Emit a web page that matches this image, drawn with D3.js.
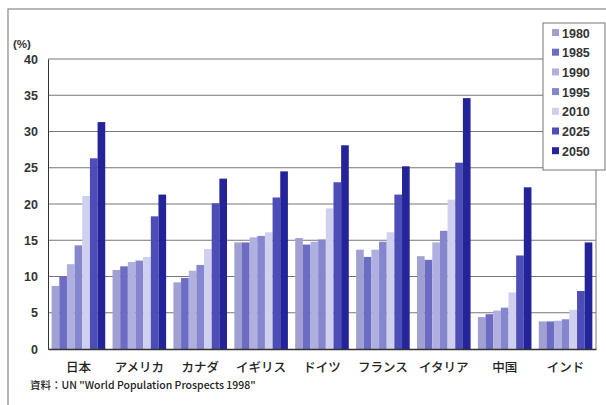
<!DOCTYPE html>
<html>
<head>
<meta charset="utf-8">
<script src="https://cdn.jsdelivr.net/npm/d3@7"></script>
<style>
body{margin:0;background:#fff;}
svg text{font-family:"Liberation Sans","Noto Sans CJK JP",sans-serif;fill:#222;}
</style>
</head>
<body>
<div id="chart"></div>
<script>
// data
var countries = ['日本','アメリカ','カナダ','イギリス','ドイツ','フランス','イタリア','中国','インド'];
var years = ['1980','1985','1990','1995','2010','2025','2050'];
var v1980 = [8.7, 10.9, 9.2, 14.7, 15.3, 13.7, 12.8, 4.4, 3.8];
var v1985 = [10.0, 11.4, 9.8, 14.7, 14.4, 12.7, 12.3, 4.8, 3.8];
var v1990 = [11.7, 12.0, 10.8, 15.4, 14.8, 13.7, 14.7, 5.3, 3.9];
var v1995 = [14.3, 12.2, 11.6, 15.6, 15.1, 14.8, 16.3, 5.7, 4.1];
var v2010 = [21.1, 12.7, 13.8, 16.1, 19.4, 16.1, 20.6, 7.8, 5.4];
var v2025 = [26.3, 18.3, 20.1, 20.9, 23.0, 21.3, 25.7, 12.9, 8.0];
var v2050 = [31.3, 21.3, 23.5, 24.5, 28.1, 25.2, 34.6, 22.3, 14.7];
var yTicks = [0,5,10,15,20,25,30,35,40];
var series = [v1980, v1985, v1990, v1995, v2010, v2025, v2050];
var colors = ['#a0a0d2','#6c6cc4','#b0b0e0','#8686ce','#cfcfee','#4d4db8','#24249a'];

var W = 606, H = 405;
var margin = {t:59, r:10, b:56, l:48};
var plotW = 596 - margin.l, plotH = 349 - margin.t;

var svg = d3.select('#chart').append('svg')
	.attr('width', W).attr('height', H);

// outer frame
svg.append('rect')
	.attr('x', 8).attr('y', 9).attr('width', 620).attr('height', 420)
	.style('fill','none').style('stroke','#888').style('stroke-width',1.2);

var plot = svg.append('g')
	.attr('transform','translate('+margin.l+','+margin.t+')');

var x0 = d3.scaleBand().domain(countries).range([0, plotW]).paddingInner(0.12).paddingOuter(0.06);
var x1 = d3.scaleBand().domain(years).range([0, x0.bandwidth()]);
var y = d3.scaleLinear().domain([0, 40]).range([plotH, 0]);

// gridlines
plot.selectAll('.grid').data(yTicks.slice(1)).enter().append('line')
	.attr('x1', 0).attr('x2', plotW)
	.attr('y1', function(d){return y(d);}).attr('y2', function(d){return y(d);})
	.style('stroke','#777').style('stroke-width',1);

// right border
plot.append('line')
	.attr('x1', plotW).attr('x2', plotW).attr('y1', 0).attr('y2', plotH)
	.style('stroke','#777');

// bars
countries.forEach(function(c, i){
	var g = plot.append('g').attr('transform','translate('+x0(c)+',0)');
	years.forEach(function(yr, j){
		var v = series[j][i];
		g.append('rect')
			.attr('x', x1(yr))
			.attr('y', y(v))
			.attr('width', x1.bandwidth())
			.attr('height', plotH - y(v))
			.style('fill', colors[j]);
	});
});

// axes
var yAxis = d3.axisLeft(y).tickValues(yTicks).tickSize(0).tickPadding(10);
var ya = plot.append('g').call(yAxis);
ya.select('.domain').style('stroke','#333');
ya.selectAll('text').style('font-size','12.5px').style('font-weight','bold')
	.style('font-family','"Liberation Sans",sans-serif').style('fill','#333');

var xAxis = d3.axisBottom(x0).tickSize(0).tickPadding(14);
var xa = plot.append('g').attr('transform','translate(0,'+plotH+')').call(xAxis);
xa.select('.domain').style('stroke','#333').style('stroke-width',1.3);
xa.selectAll('text').style('font-size','12.5px').style('font-weight','500')
	.style('font-family','"Noto Sans CJK JP",sans-serif').style('fill','#222');

// unit label
svg.append('text').attr('x', 13).attr('y', 48).text('(%)')
	.style('font-size','11.5px').style('font-weight','bold').style('fill','#333');

// source
svg.append('text').attr('x', 30).attr('y', 389)
	.text('資料：UN "World Population Prospects 1998"')
	.style('font-size','10.5px').style('font-weight','500')
	.style('font-family','"Noto Sans CJK JP",sans-serif');

// legend
var leg = svg.append('g');
leg.append('rect').attr('x', 543).attr('y', 23).attr('width', 62).attr('height', 147)
	.style('fill','#fff').style('stroke','#777');
years.forEach(function(yr, j){
	var ly = 33 + j*19.7;
	leg.append('rect').attr('x', 552).attr('y', ly - 4).attr('width', 7).attr('height', 7)
		.style('fill', colors[j]);
	leg.append('text').attr('x', 562).attr('y', ly + 4.5).text(yr)
		.style('font-size','12.5px').style('font-weight','bold').style('fill','#333');
});
</script>
</body>
</html>
